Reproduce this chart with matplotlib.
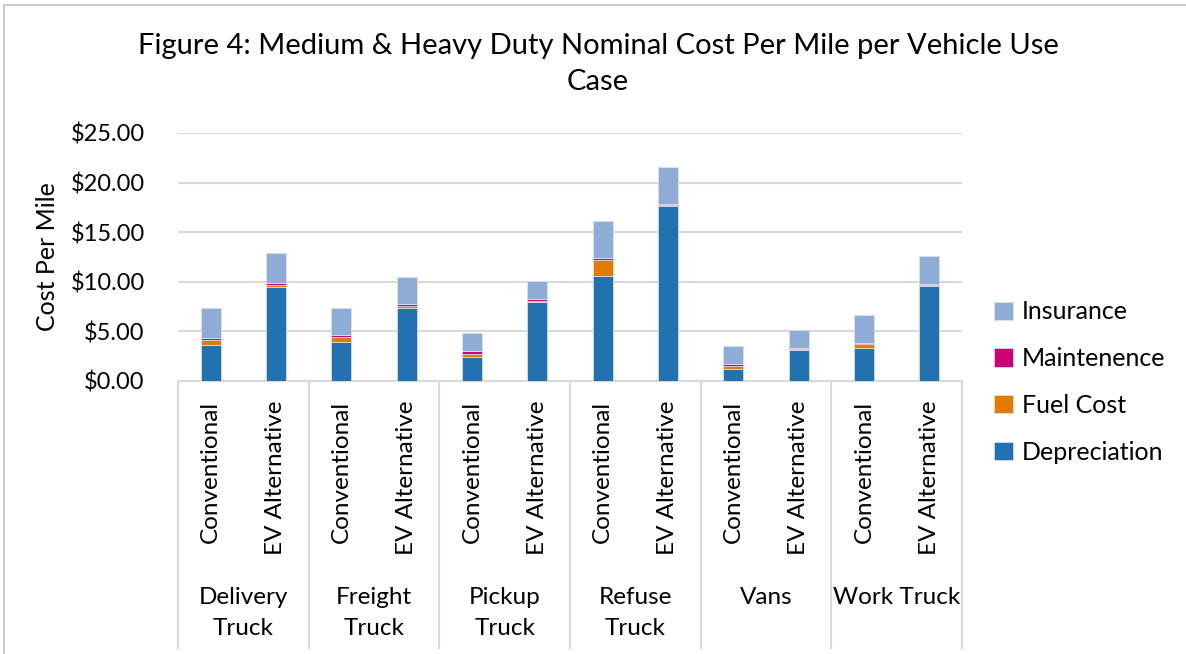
import matplotlib.pyplot as plt
from matplotlib.patches import Rectangle
import numpy as np

plt.rcParams['font.family'] = ['Lato', 'DejaVu Sans']

# data ($ per mile)
groups = ["Delivery\nTruck", "Freight\nTruck", "Pickup\nTruck", "Refuse\nTruck", "Vans", "Work Truck"]
variants = ["Conventional", "EV Alternative"]
depreciation = [3.64, 9.50, 3.91, 7.37, 2.46, 7.98, 10.54, 17.60, 1.21, 3.13, 3.30, 9.53]
fuel_cost = [0.47, 0.13, 0.50, 0.21, 0.31, 0.10, 1.65, 0.10, 0.27, 0.07, 0.38, 0.10]
maintenence = [0.20, 0.21, 0.20, 0.20, 0.23, 0.17, 0.20, 0.17, 0.21, 0.17, 0.20, 0.17]
insurance = [3.02, 3.03, 2.70, 2.66, 1.85, 1.79, 3.74, 3.73, 1.81, 1.75, 2.76, 2.77]

series = [("Depreciation", depreciation, "#2271B1"),
          ("Fuel Cost", fuel_cost, "#E47A00"),
          ("Maintenence", maintenence, "#CC0077"),
          ("Insurance", insurance, "#8EACD6")]

W, H = 1186, 654
fig = plt.figure(figsize=(W / 100, H / 100), dpi=100)
ax = fig.add_axes([178 / W, 1 - 381 / H, (962 - 178) / W, (381 - 133) / H])

# chart border
fig.patches.append(Rectangle((4 / W, -0.05), 1.2, 1 - 5 / H + 0.05, transform=fig.transFigure,
                             fill=False, edgecolor="#BFBFBF", linewidth=1.2))

n = len(depreciation)
x = np.arange(n) + 0.5
bottom = np.zeros(n)
handles = []
for name, vals, col in series:
    b = ax.bar(x, vals, width=0.31, bottom=bottom, color=col, label=name,
               edgecolor="#DCE6F2", linewidth=0.5, zorder=3)
    bottom += np.array(vals)
    handles.append(b)

ax.set_xlim(0, n)
ax.set_ylim(0, 25)
ax.set_yticks(np.arange(0, 26, 5))
ax.set_yticklabels(["${:.2f}".format(v) for v in np.arange(0, 26, 5)], fontsize=17)
ax.tick_params(axis="y", length=0, pad=24)
ax.set_xticks([])
ax.yaxis.grid(True, color="#D9D9D9", linewidth=1.5, zorder=0)
ax.set_axisbelow(True)
for s in ["top", "right", "left"]:
    ax.spines[s].set_visible(False)
ax.spines["bottom"].set_color("#D9D9D9")
ax.spines["bottom"].set_linewidth(1.5)

ax.set_ylabel("Cost Per Mile", fontsize=18, labelpad=8)

trans = ax.get_xaxis_transform()
# group separators below axis
for g in range(len(groups) + 1):
    ax.plot([2 * g, 2 * g], [0, -1.077], transform=trans, color="#D9D9D9",
            linewidth=1.5, clip_on=False)
# category labels
for i in range(n):
    ax.text(x[i], -0.08, variants[i % 2], transform=trans, rotation=90,
            ha="center", va="top", fontsize=17.5)
for g, name in enumerate(groups):
    ax.text(2 * g + 1, -(587 - 381) / 248, name, transform=trans, ha="center", va="top",
            fontsize=17.5, linespacing=1.6)

fig.text(598 / W, 1 - 64 / H,
         "Figure 4: Medium & Heavy Duty Nominal Cost Per Mile per Vehicle Use\nCase",
         ha="center", va="center", fontsize=21, linespacing=1.45)

leg = fig.legend(handles[::-1], [s[0] for s in series][::-1], loc="center left",
                 bbox_to_anchor=(972 / W, 1 - 382 / H), frameon=False, fontsize=18,
                 handlelength=0.75, handleheight=0.75, handletextpad=0.35, labelspacing=0.95)

fig.savefig("out.png", dpi=100)
